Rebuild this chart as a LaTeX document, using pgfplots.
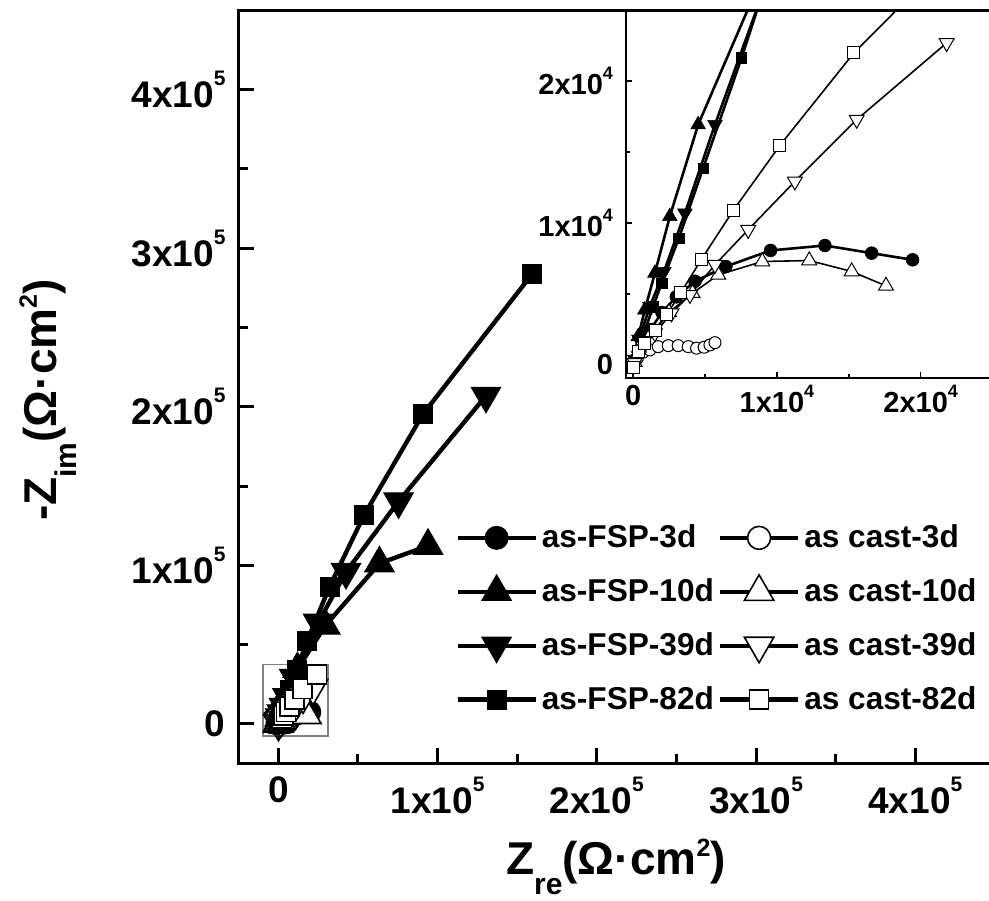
\documentclass[border=0pt]{standalone}
\usepackage{fontspec}
\setmainfont{Liberation Sans}
\usepackage{pgfplots}
\pgfplotsset{compat=1.18}
\usepackage{pgfplotstable}

\newcommand\supm[1]{\raisebox{11pt}{\fontsize{10.5}{10.5}\selectfont #1}}
\newcommand\supi[1]{\raisebox{7.5pt}{\fontsize{9}{9}\selectfont #1}}

\pgfplotstableread{
x y
200 400
600 1300
1200 2500
2000 3700
3000 4800
4300 5900
6450 6940
9560 8070
13340 8420
16590 7880
19440 7410
}\fspthree
\pgfplotstableread{
x y
100 500
350 2000
810 3880
1510 6470
2550 10470
4520 16940
12000 34500
29500 62000
63500 101200
94000 112300
}\fspten
\pgfplotstableread{
x y
100 400
400 1800
1160 4110
2140 6580
3600 10700
5690 16940
10000 29000
25000 63800
42500 95800
75500 140300
130400 206900
}\fspthirtynine
\pgfplotstableread{
x y
100 300
300 1000
700 2100
1390 4110
1980 5770
3180 8940
4870 13880
7540 21640
11500 34000
18000 52000
32200 86600
54000 131900
90800 195300
159400 283700
}\fspeightytwo
\pgfplotstableread{
x y
100 150
300 500
700 900
1160 1060
1740 1290
2440 1360
3130 1360
3830 1290
4410 1180
4940 1250
5340 1410
5690 1570
}\castthree
\pgfplotstableread{
x y
100 200
400 1200
1300 2300
2500 3700
4130 5060
5920 6350
8980 7290
12250 7360
15200 6590
17590 5570
}\castten
\pgfplotstableread{
x y
100 150
700 1300
1510 2240
2670 3650
3950 4940
5690 7060
8000 9530
11250 12940
15550 17290
21810 22700
}\castthirtynine
\pgfplotstableread{
x y
0 -200
350 940
810 1530
1580 2420
2320 3530
3320 5100
4760 7460
6960 10890
10210 15480
15360 22000
24200 31000
}\casteightytwo

\begin{document}
\begin{tikzpicture}
\begin{axis}[
  at={(0pt,0pt)}, anchor=south west,
  scale only axis, width=378.25pt, height=376.6pt,
  xmin=-25000, xmax=450000, ymin=-25000, ymax=450000,
  scaled ticks=false,
  xtick={0,100000,200000,300000,400000},
  ytick={0,100000,200000,300000,400000},
  xticklabels={0,1x10\supm{5},2x10\supm{5},3x10\supm{5},4x10\supm{5}},
  yticklabels={0,1x10\supm{5},2x10\supm{5},3x10\supm{5},4x10\supm{5}},
  minor tick num=1,
  tick pos=left, tick align=inside,
  major tick length=8pt, minor tick length=5pt,
  tick style={black, line width=1.5pt},
  axis line style={line width=1.65pt},
  tick label style={font=\fontsize{18.5}{20}\selectfont\bfseries},
  yticklabel style={xshift=-3pt},
  xticklabel style={yshift=-3pt},
  xlabel={Z\raisebox{-10pt}{\fontsize{15}{15}\selectfont re}(Ω·cm\raisebox{9pt}{\fontsize{12.5}{12.5}\selectfont 2})},
  ylabel={-Z\raisebox{-10pt}{\fontsize{15}{15}\selectfont im}(Ω·cm\raisebox{10pt}{\fontsize{12.5}{12.5}\selectfont 2})},
  label style={font=\fontsize{23}{26}\selectfont\bfseries},
  xlabel style={at={(axis description cs:0.499,-0.148)}, anchor=base},
  ylabel style={at={(axis description cs:-0.24,0.4826)}, anchor=base},
  legend columns=4, transpose legend,
  legend cell align=left,
  legend style={at={(axis description cs:0.2862,0.3226)}, anchor=north west,
    draw=none, fill=none, inner sep=0pt, column sep=0pt, row sep=10pt,
    font=\fontsize{15.8}{18}\selectfont\bfseries},
  legend image code/.code={\draw[mark repeat=2,mark phase=2,#1] plot coordinates {(0pt,0pt) (19.5pt,0pt) (39pt,0pt)};},
]
\draw[gray, line width=0.6pt] (axis cs:-9600,-7600) rectangle (axis cs:31200,37200);
\addplot[black, line width=2.2pt, mark=*, mark size=5.75pt, mark options={solid, fill=black, line width=0.5pt}] table {\fspthree};
\addplot[black, line width=2.2pt, mark=triangle*, mark size=8.5pt, mark options={solid, fill=black, line width=0.5pt}] table {\fspten};
\addplot[black, line width=2.2pt, mark=triangle*, mark size=8.5pt, mark options={solid, fill=black, line width=0.5pt, rotate=180}] table {\fspthirtynine};
\addplot[black, line width=2.2pt, mark=square*, mark size=4.75pt, mark options={solid, fill=black, line width=0.5pt}] table {\fspeightytwo};
\addplot[black, line width=2.2pt, mark=*, mark size=5.75pt, mark options={solid, fill=white, line width=0.8pt}] table {\castthree};
\addplot[black, line width=2.2pt, mark=triangle*, mark size=8.5pt, mark options={solid, fill=white, line width=0.8pt}] table {\castten};
\addplot[black, line width=2.2pt, mark=triangle*, mark size=8.5pt, mark options={solid, fill=white, line width=0.8pt, rotate=180}] table {\castthirtynine};
\addplot[black, line width=2.2pt, mark=square*, mark size=4.75pt, mark options={solid, fill=white, line width=0.8pt}] table {\casteightytwo};
\legend{as-FSP-3d, as-FSP-10d, as-FSP-39d, as-FSP-82d, as cast-3d, as cast-10d, as cast-39d, as cast-82d}
\end{axis}

\begin{axis}[
  at={(193.75pt,192.9pt)}, anchor=south west,
  scale only axis, width=183.25pt, height=183.7pt,
  xmin=-500, xmax=25000, ymin=-900, ymax=25000,
  scaled ticks=false,
  xtick={0,10000,20000}, ytick={0,10000,20000},
  xticklabels={0,1x10\supi{4},2x10\supi{4}},
  yticklabels={0,1x10\supi{4},2x10\supi{4}},
  minor tick num=1,
  tick pos=left, tick align=inside,
  major tick length=3pt, minor tick length=2pt,
  tick style={black, line width=0.8pt},
  axis line style={line width=1pt},
  tick label style={font=\fontsize{14.5}{16}\selectfont\bfseries},
  yticklabel style={xshift=-3pt},
]
\addplot[black, line width=1.3pt, mark=*, mark size=3.2pt, mark options={solid, fill=black, line width=0.3pt}] table {\fspthree};
\addplot[black, line width=1.3pt, mark=triangle*, mark size=4.2pt, mark options={solid, fill=black, line width=0.3pt}] table {\fspten};
\addplot[black, line width=1.3pt, mark=triangle*, mark size=4.2pt, mark options={solid, fill=black, line width=0.3pt, rotate=180}] table {\fspthirtynine};
\addplot[black, line width=1.3pt, mark=square*, mark size=2.6pt, mark options={solid, fill=black, line width=0.3pt}] table {\fspeightytwo};
\addplot[black, line width=0.8pt, mark=*, mark size=3pt, mark options={solid, fill=white, line width=0.5pt}] table {\castthree};
\addplot[black, line width=0.8pt, mark=triangle*, mark size=4.3pt, mark options={solid, fill=white, line width=0.5pt}] table {\castten};
\addplot[black, line width=0.8pt, mark=triangle*, mark size=4.3pt, mark options={solid, fill=white, line width=0.5pt, rotate=180}] table {\castthirtynine};
\addplot[black, line width=0.8pt, mark=square*, mark size=3pt, mark options={solid, fill=white, line width=0.5pt}] table {\casteightytwo};
\end{axis}
\pgfresetboundingbox
\useasboundingbox (-119.25pt,-68.25pt) rectangle (375.25pt,381.75pt);
\end{tikzpicture}
\end{document}
